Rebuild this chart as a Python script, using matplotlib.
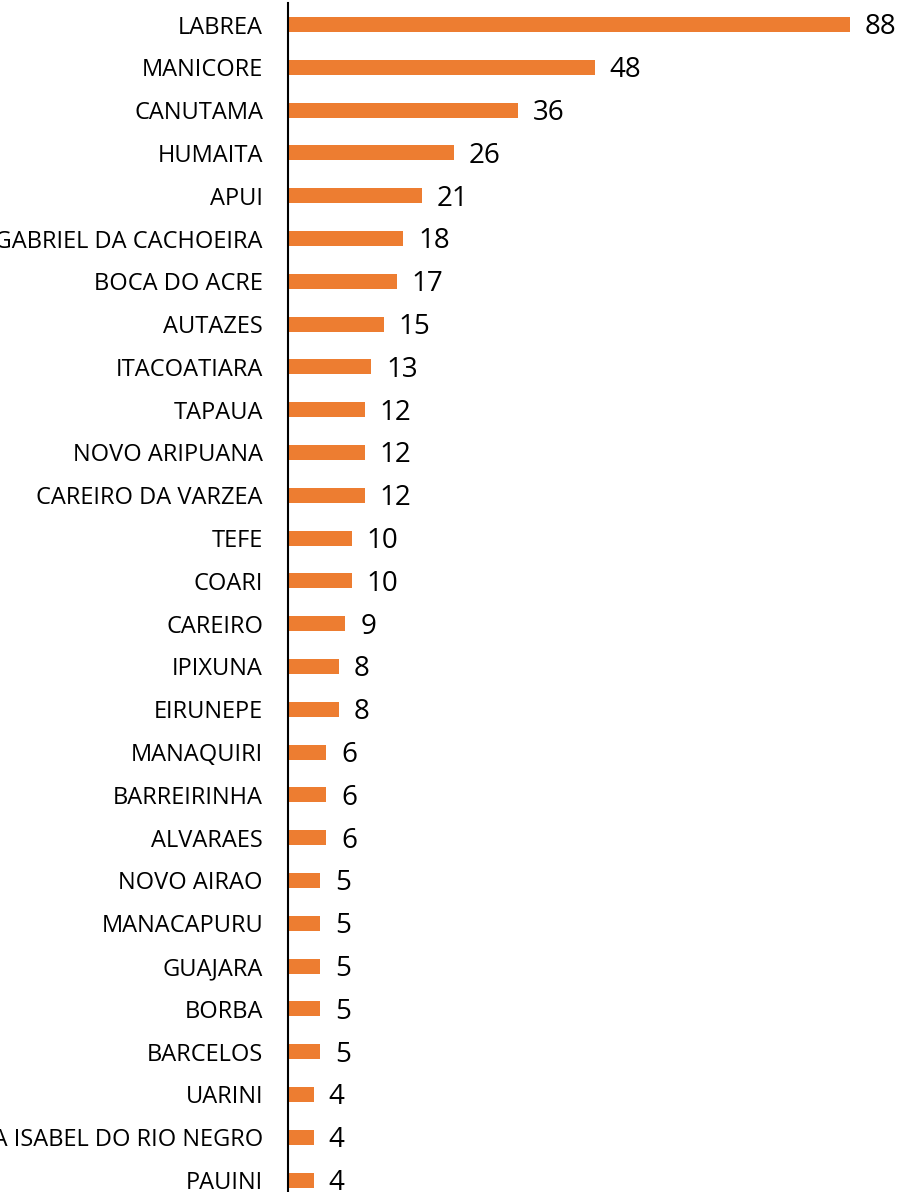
import matplotlib
matplotlib.use("Agg")
import matplotlib.pyplot as plt

categories = ["LABREA", "MANICORE", "CANUTAMA", "HUMAITA", "APUI",
              "SAO GABRIEL DA CACHOEIRA", "BOCA DO ACRE", "AUTAZES", "ITACOATIARA",
              "TAPAUA", "NOVO ARIPUANA", "CAREIRO DA VARZEA", "TEFE", "COARI",
              "CAREIRO", "IPIXUNA", "EIRUNEPE", "MANAQUIRI", "BARREIRINHA",
              "ALVARAES", "NOVO AIRAO", "MANACAPURU", "GUAJARA", "BORBA",
              "BARCELOS", "UARINI", "SANTA ISABEL DO RIO NEGRO", "PAUINI"]
values = [88, 48, 36, 26, 21, 18, 17, 15, 13, 12, 12, 12, 10, 10, 9, 8, 8,
          6, 6, 6, 5, 5, 5, 5, 5, 4, 4, 4]

W, H = 905, 1192
fig = plt.figure(figsize=(W / 100, H / 100), dpi=100)

n = len(categories)
row = 42.8
top_px = 24.5 - row / 2
bot_px = top_px + row * n
left_px = 288
ppu = (850 - 288) / 88.0
xmax = 95
ax = fig.add_axes([left_px / W, 1 - bot_px / H, xmax * ppu / W, (bot_px - top_px) / H])

ypos = list(range(n))
ax.barh(ypos, values, height=0.35, color="#ED7D31")
ax.set_ylim(n - 0.5, -0.5)
ax.set_xlim(0, xmax)
ax.set_yticks(ypos)
ax.set_yticklabels(categories, fontsize=17, family="Open Sans")
ax.tick_params(axis="y", length=0, pad=18)
ax.set_xticks([])
for s in ["top", "right", "bottom"]:
    ax.spines[s].set_visible(False)
ax.spines["left"].set_linewidth(1.5)
ax.spines["left"].set_color("black")

for y, v in zip(ypos, values):
    ax.annotate(str(v), xy=(v, y), xytext=(15, -3), textcoords="offset pixels",
                va="center", ha="left", fontsize=20, family="Open Sans")

fig.savefig("out.png", dpi=100)
